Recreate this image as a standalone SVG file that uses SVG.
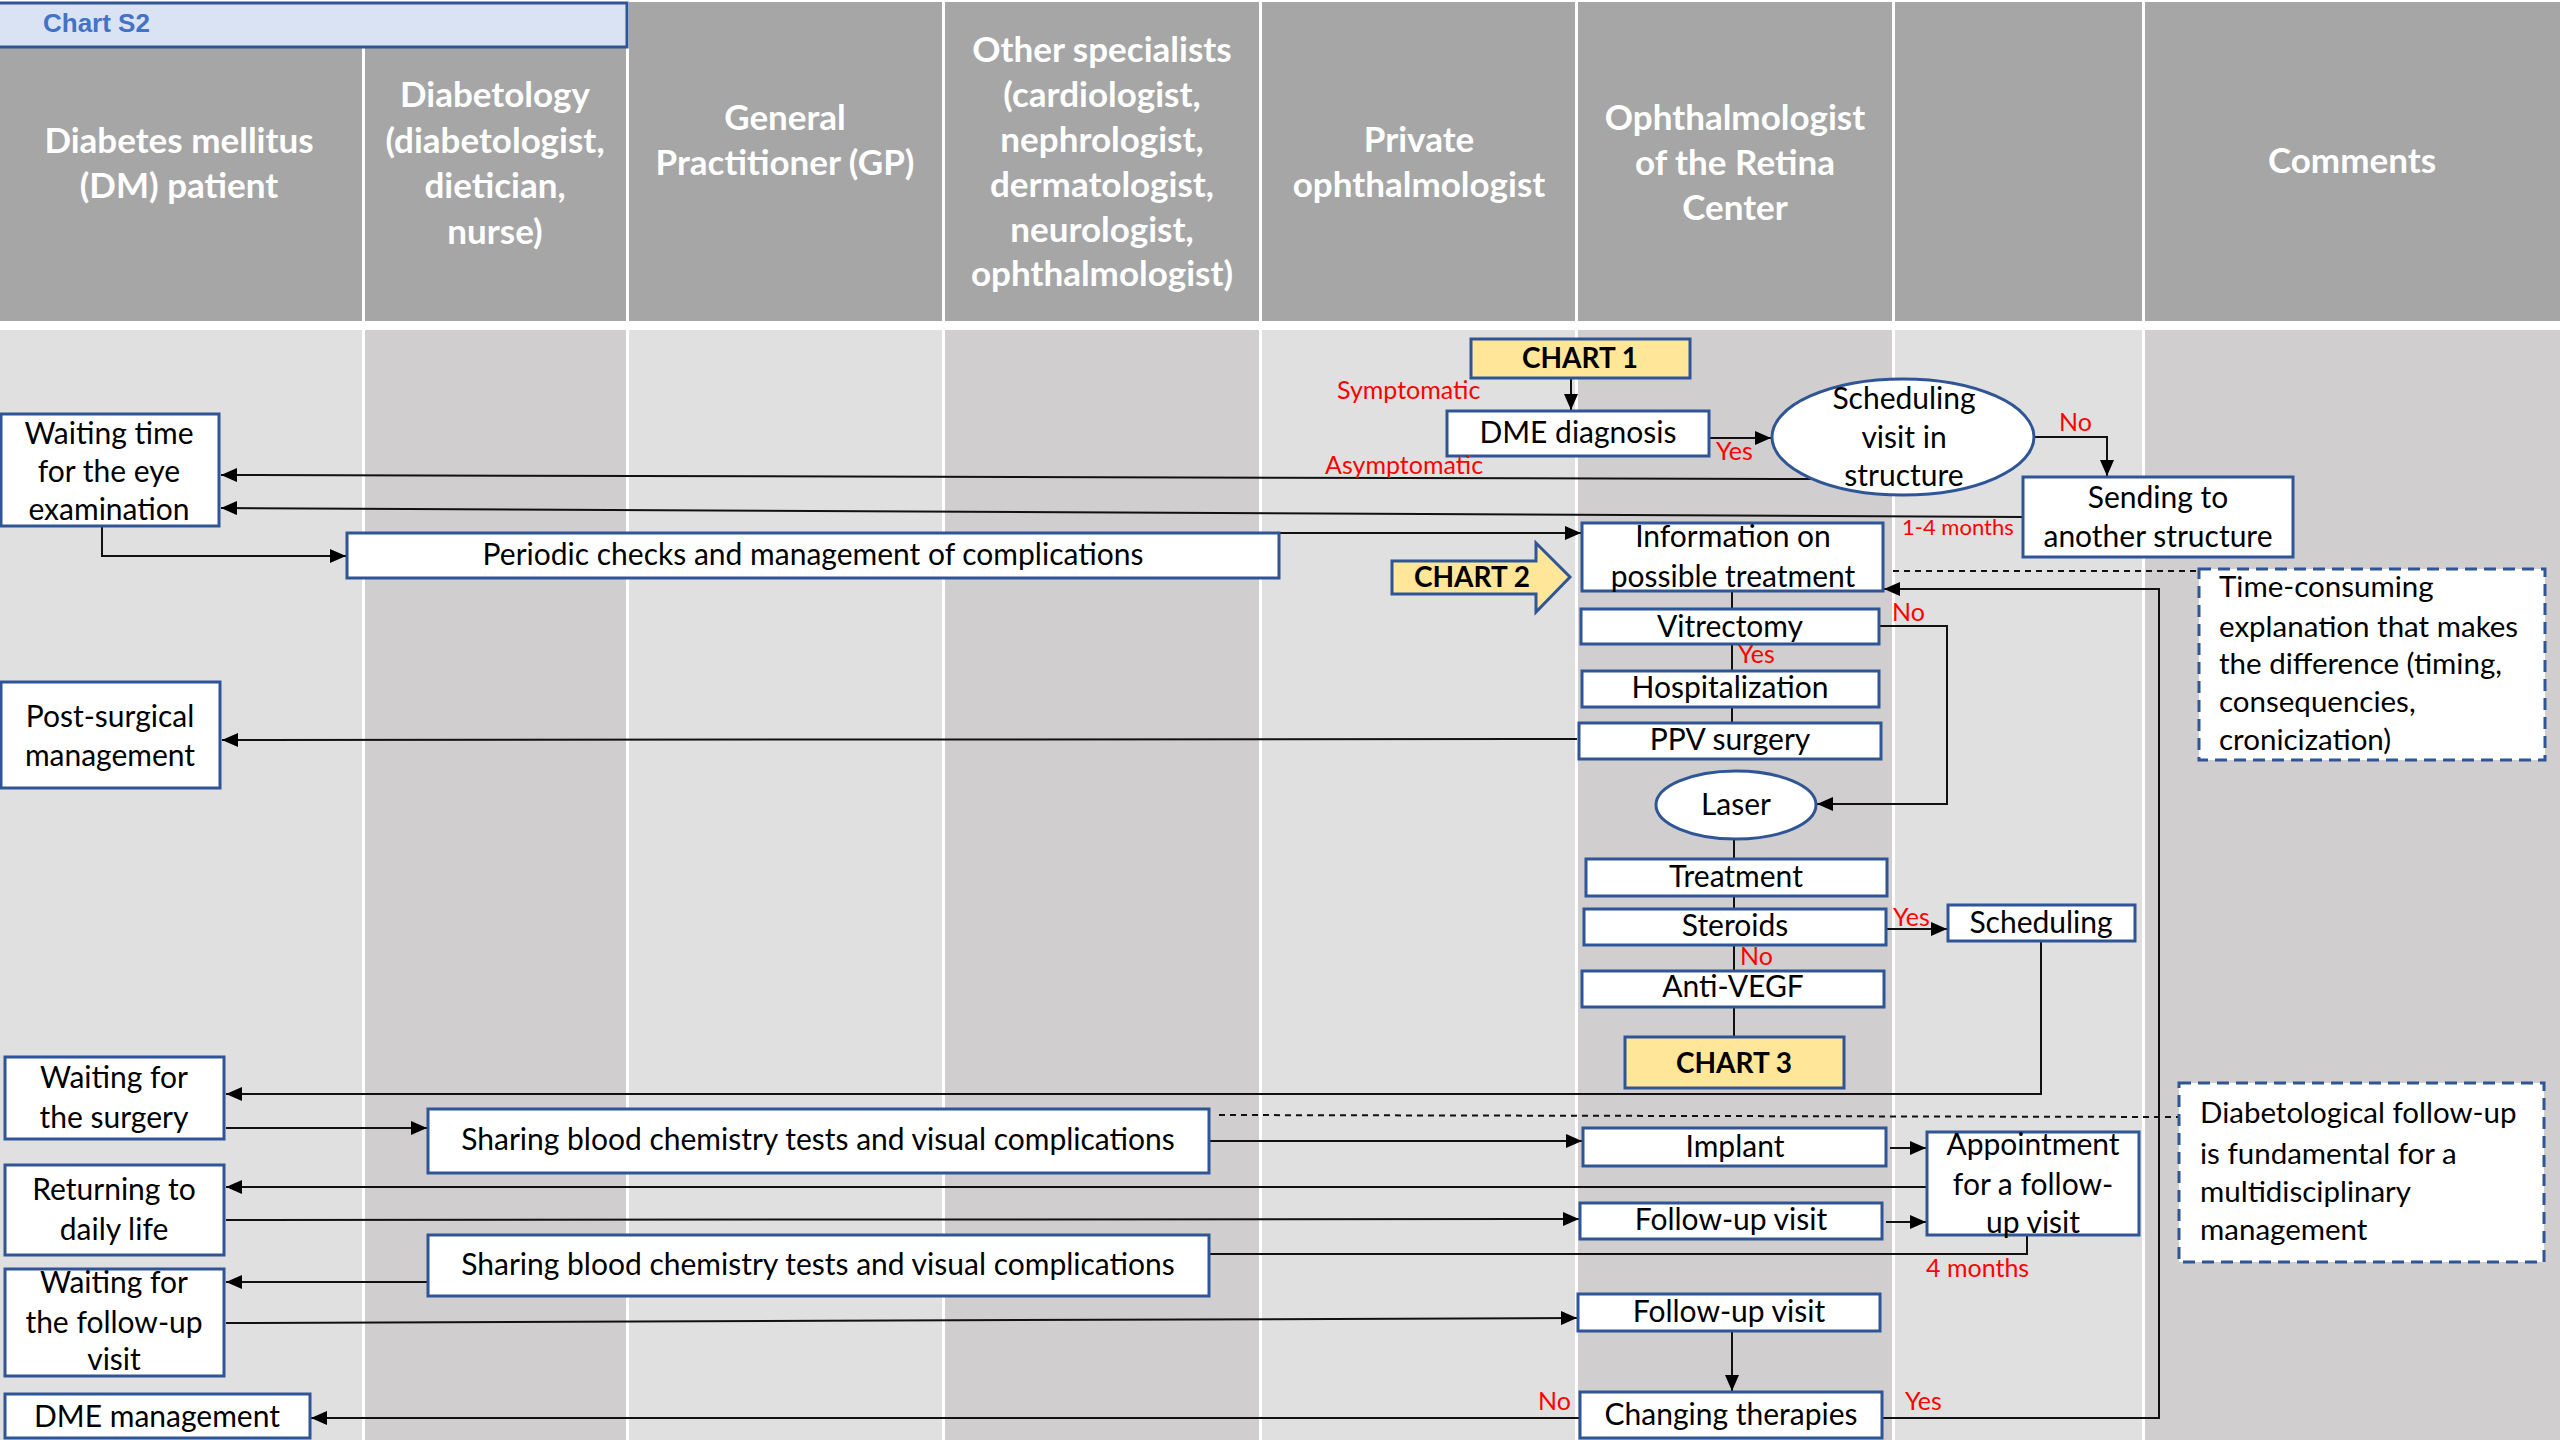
<svg xmlns="http://www.w3.org/2000/svg" width="2560" height="1440" viewBox="0 0 2560 1440">
<style>
.hdr{fill:#a6a6a6}
.lt{fill:#e0e0e0}
.dk{fill:#d0cece}
.ht{fill:#fff;font-family:Lato,"Liberation Sans",sans-serif;font-weight:bold;font-size:35px;text-anchor:middle}
.box{fill:#fff;stroke:#2f5597;stroke-width:3}
.chart{fill:#ffe699;stroke:#2f5597;stroke-width:3}
.note{fill:#fff;stroke:#2f5597;stroke-width:3;stroke-dasharray:12 7}
.t{font-family:Lato,"Liberation Sans",sans-serif;font-size:30px;fill:#000;text-anchor:middle}
.tl{font-family:Lato,"Liberation Sans",sans-serif;font-size:29.5px;fill:#000;text-anchor:start}
.tb{font-family:Lato,"Liberation Sans",sans-serif;font-size:28px;font-weight:bold;fill:#000;text-anchor:middle}
.red{font-family:Lato,"Liberation Sans",sans-serif;font-size:25px;fill:#ff0000}
.red.sm{font-size:22px}
.ln{fill:none;stroke:#111;stroke-width:2}
.ar{marker-end:url(#ah)}
.dash{fill:none;stroke:#111;stroke-width:2;stroke-dasharray:6 5}
</style>
<defs>
<marker id="ah" viewBox="0 0 16 14" refX="16" refY="7" markerWidth="16" markerHeight="14" markerUnits="userSpaceOnUse" orient="auto">
<path d="M0,0 L16,7 L0,14 z" fill="#000"/>
</marker>
</defs>
<rect x="0" y="0" width="2560" height="1440" fill="#fff"/>
<g id="header">
<rect class="hdr" x="0" y="47" width="362" height="274"/>
<rect class="hdr" x="365" y="47" width="261" height="274"/>
<rect class="hdr" x="629" y="2" width="313" height="319"/>
<rect class="hdr" x="945" y="2" width="314" height="319"/>
<rect class="hdr" x="1262" y="2" width="313" height="319"/>
<rect class="hdr" x="1578" y="2" width="314" height="319"/>
<rect class="hdr" x="1895" y="2" width="247" height="319"/>
<rect class="hdr" x="2145" y="2" width="415" height="319"/>
<rect x="-2" y="3" width="629" height="44" fill="#dae3f3" stroke="#2f5597" stroke-width="3"/>
<text x="43" y="32" font-family="'Liberation Sans',Arial,sans-serif" font-weight="bold" font-size="26" fill="#4472c4">Chart S2</text>
<text class="ht"><tspan x="179" y="153">Diabetes mellitus</tspan><tspan x="179" y="198">(DM) patient</tspan></text>
<text class="ht"><tspan x="495" y="107">Diabetology</tspan><tspan x="495" y="153">(diabetologist,</tspan><tspan x="495" y="198">dietician,</tspan><tspan x="495" y="244">nurse)</tspan></text>
<text class="ht"><tspan x="785" y="130">General</tspan><tspan x="785" y="175">Practitioner (GP)</tspan></text>
<text class="ht"><tspan x="1102" y="62">Other specialists</tspan><tspan x="1102" y="107">(cardiologist,</tspan><tspan x="1102" y="152">nephrologist,</tspan><tspan x="1102" y="197">dermatologist,</tspan><tspan x="1102" y="242">neurologist,</tspan><tspan x="1102" y="286">ophthalmologist)</tspan></text>
<text class="ht"><tspan x="1419" y="152">Private</tspan><tspan x="1419" y="197">ophthalmologist</tspan></text>
<text class="ht"><tspan x="1735" y="130">Ophthalmologist</tspan><tspan x="1735" y="175">of the Retina</tspan><tspan x="1735" y="220">Center</tspan></text>
<text class="ht" x="2352" y="173">Comments</text>
</g>
<g id="lanes">
<rect class="lt" x="0" y="330" width="362" height="1110"/>
<rect class="dk" x="365" y="330" width="261" height="1110"/>
<rect class="lt" x="629" y="330" width="313" height="1110"/>
<rect class="dk" x="945" y="330" width="314" height="1110"/>
<rect class="lt" x="1262" y="330" width="313" height="1110"/>
<rect class="dk" x="1578" y="330" width="314" height="1110"/>
<rect class="lt" x="1895" y="330" width="247" height="1110"/>
<rect class="dk" x="2145" y="330" width="415" height="1110"/>
</g>
<g id="connectors">
<path class="ln ar" d="M1571,378 V410"/>
<path class="ln ar" d="M1709,438 H1771"/>
<path class="ln ar" d="M2034,437 H2107 V476"/>
<path class="ln ar" d="M1818,479 L221,475"/>
<path class="ln ar" d="M2023,517 L221,508"/>
<path class="ln ar" d="M102,526 V556 H346"/>
<path class="ln ar" d="M1279,533 H1581"/>
<path class="ln" d="M1732,591 V609"/>
<path class="ln" d="M1732,644 V671"/>
<path class="ln" d="M1732,707 V723"/>
<path class="ln ar" d="M1879,626 H1947 V804 H1817"/>
<path class="ln ar" d="M1577,739 L222,740"/>
<path class="ln" d="M1734,839 V859"/>
<path class="ln" d="M1734,896 V909"/>
<path class="ln" d="M1734,945 V971"/>
<path class="ln" d="M1734,1007 V1037"/>
<path class="ln ar" d="M1886,929 H1947"/>
<path class="ln ar" d="M2041,941 V1094 H226"/>
<path class="ln ar" d="M226,1128 H427"/>
<path class="ln ar" d="M1209,1141 H1582"/>
<path class="dash" d="M1219,1115 L2179,1117"/>
<path class="ln ar" d="M1890,1148 H1926"/>
<path class="ln ar" d="M1927,1187 H226"/>
<path class="ln ar" d="M226,1220 L1579,1219"/>
<path class="ln ar" d="M1886,1222 H1926"/>
<path class="ln" d="M2027,1236 V1254 H1209"/>
<path class="ln ar" d="M428,1282 H226"/>
<path class="ln ar" d="M226,1323 L1577,1318"/>
<path class="ln ar" d="M1732,1331 V1391"/>
<path class="ln ar" d="M1580,1418 H311"/>
<path class="ln ar" d="M1882,1418 H2159 V589 H1884"/>
<path class="dash" d="M1893,571 H2199"/>
</g>
<g id="chart1"><rect class="chart" x="1471" y="339" width="219" height="39"/><text class="tb" x="1580" y="368">CHART 1</text></g>
<g id="dme-diagnosis"><rect class="box" x="1447" y="411" width="262" height="45"/><text class="t" x="1578" y="443">DME diagnosis</text></g>
<g id="scheduling-visit"><ellipse class="box" cx="1903" cy="437" rx="131" ry="58"/><text class="t"><tspan x="1904" y="409">Scheduling</tspan><tspan x="1904" y="448">visit in</tspan><tspan x="1904" y="486">structure</tspan></text></g>
<g id="sending"><rect class="box" x="2023" y="477" width="270" height="80"/><text class="t"><tspan x="2158" y="508">Sending to</tspan><tspan x="2158" y="547">another structure</tspan></text></g>
<g id="waiting-eye"><rect class="box" x="1" y="414" width="218" height="112"/><text class="t"><tspan x="109" y="444">Waiting time</tspan><tspan x="109" y="482">for the eye</tspan><tspan x="109" y="520">examination</tspan></text></g>
<g id="periodic"><rect class="box" x="347" y="533" width="932" height="45"/><text class="t" x="813" y="565">Periodic checks and management of complications</text></g>
<g id="information"><rect class="box" x="1582" y="523" width="301" height="68"/><text class="t"><tspan x="1733" y="547">Information on</tspan><tspan x="1733" y="587">possible treatment</tspan></text></g>
<g id="chart2"><polygon class="chart" points="1392,561 1536,561 1536,543 1570,577 1536,612 1536,594 1392,594"/><text class="tb" x="1472" y="587">CHART 2</text></g>
<g id="vitrectomy"><rect class="box" x="1581" y="609" width="298" height="35"/><text class="t" x="1730" y="637">Vitrectomy</text></g>
<g id="hospitalization"><rect class="box" x="1582" y="671" width="297" height="36"/><text class="t" x="1730" y="698">Hospitalization</text></g>
<g id="ppv"><rect class="box" x="1579" y="723" width="302" height="36"/><text class="t" x="1730" y="750">PPV surgery</text></g>
<g id="laser"><ellipse class="box" cx="1736" cy="805" rx="80" ry="34"/><text class="t" x="1736" y="815">Laser</text></g>
<g id="treatment"><rect class="box" x="1586" y="859" width="301" height="37"/><text class="t" x="1736" y="887">Treatment</text></g>
<g id="steroids"><rect class="box" x="1584" y="909" width="302" height="36"/><text class="t" x="1735" y="936">Steroids</text></g>
<g id="scheduling"><rect class="box" x="1948" y="905" width="187" height="36"/><text class="t" x="2041" y="933">Scheduling</text></g>
<g id="anti-vegf"><rect class="box" x="1582" y="971" width="302" height="36"/><text class="t" x="1733" y="997">Anti-VEGF</text></g>
<g id="chart3"><rect class="chart" x="1625" y="1037" width="219" height="51"/><text class="tb" x="1734" y="1073">CHART 3</text></g>
<g id="post-surgical"><rect class="box" x="1" y="682" width="219" height="106"/><text class="t"><tspan x="110" y="727">Post-surgical</tspan><tspan x="110" y="766">management</tspan></text></g>
<g id="note-time"><rect class="note" x="2199" y="569" width="346" height="191"/><text class="tl"><tspan x="2219" y="597">Time-consuming</tspan><tspan x="2219" y="637">explanation that makes</tspan><tspan x="2219" y="674">the difference (timing,</tspan><tspan x="2219" y="712">consequencies,</tspan><tspan x="2219" y="750">cronicization)</tspan></text></g>
<g id="waiting-surgery"><rect class="box" x="5" y="1057" width="219" height="82"/><text class="t"><tspan x="114" y="1088">Waiting for</tspan><tspan x="114" y="1128">the surgery</tspan></text></g>
<g id="sharing1"><rect class="box" x="428" y="1109" width="781" height="64"/><text class="t" x="818" y="1150">Sharing blood chemistry tests and visual complications</text></g>
<g id="implant"><rect class="box" x="1583" y="1128" width="303" height="38"/><text class="t" x="1735" y="1157">Implant</text></g>
<g id="appointment"><rect class="box" x="1927" y="1132" width="212" height="103"/><text class="t"><tspan x="2033" y="1155">Appointment</tspan><tspan x="2033" y="1195">for a follow-</tspan><tspan x="2033" y="1233">up visit</tspan></text></g>
<g id="note-diabetological"><rect class="note" x="2179" y="1083" width="365" height="179"/><text class="tl"><tspan x="2200" y="1123">Diabetological follow-up</tspan><tspan x="2200" y="1164">is fundamental for a</tspan><tspan x="2200" y="1202">multidisciplinary</tspan><tspan x="2200" y="1240">management</tspan></text></g>
<g id="returning"><rect class="box" x="5" y="1165" width="219" height="90"/><text class="t"><tspan x="114" y="1200">Returning to</tspan><tspan x="114" y="1240">daily life</tspan></text></g>
<g id="followup1"><rect class="box" x="1580" y="1203" width="302" height="36"/><text class="t" x="1731" y="1230">Follow-up visit</text></g>
<g id="sharing2"><rect class="box" x="428" y="1235" width="781" height="61"/><text class="t" x="818" y="1275">Sharing blood chemistry tests and visual complications</text></g>
<g id="waiting-followup"><rect class="box" x="5" y="1269" width="219" height="107"/><text class="t"><tspan x="114" y="1293">Waiting for</tspan><tspan x="114" y="1333">the follow-up</tspan><tspan x="114" y="1370">visit</tspan></text></g>
<g id="followup2"><rect class="box" x="1578" y="1294" width="302" height="37"/><text class="t" x="1729" y="1322">Follow-up visit</text></g>
<g id="changing"><rect class="box" x="1580" y="1392" width="302" height="46"/><text class="t" x="1731" y="1425">Changing therapies</text></g>
<g id="dme-management"><rect class="box" x="5" y="1394" width="305" height="44"/><text class="t" x="157" y="1427">DME management</text></g>
<g id="labels">
<text class="red" x="1337" y="399">Symptomatic</text>
<text class="red" x="1325" y="474">Asymptomatic</text>
<text class="red" x="1716" y="460">Yes</text>
<text class="red" x="2059" y="431">No</text>
<text class="red sm" x="1902" y="535">1-4 months</text>
<text class="red" x="1892" y="621">No</text>
<text class="red" x="1738" y="663">Yes</text>
<text class="red" x="1893" y="926">Yes</text>
<text class="red" x="1740" y="965">No</text>
<text class="red" x="1926" y="1277">4 months</text>
<text class="red" x="1538" y="1410">No</text>
<text class="red" x="1905" y="1410">Yes</text>
</g>
</svg>
